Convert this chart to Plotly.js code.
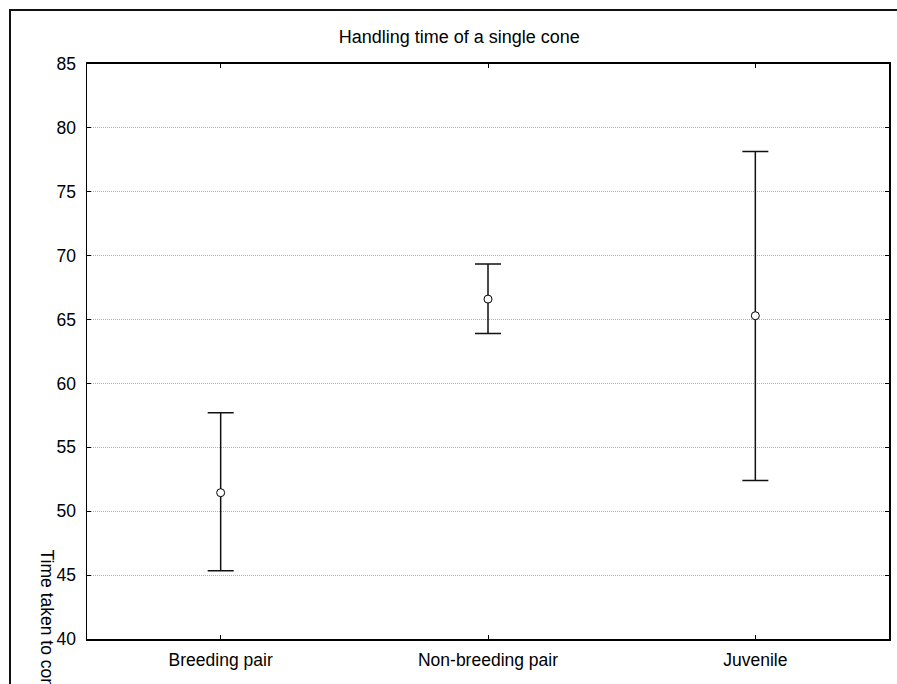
<!DOCTYPE html>
<html>
<head>
<meta charset="utf-8">
<script src="https://cdn.plot.ly/plotly-3.0.1.min.js"></script>
<style>
  html, body { margin: 0; padding: 0; background: #ffffff; overflow: hidden; }
  #frame { position: absolute; left: 9px; top: 9px; width: 1000px; height: 1000px;
           border-left: 2px solid #111; border-top: 2px solid #111; box-sizing: border-box; }
  #chart { position: absolute; left: 0; top: 0; width: 897px; height: 684px; }
</style>
</head>
<body>
<div id="frame"></div>
<div id="chart"></div>
<script>
// Data
const groups = ["Breeding pair", "Non-breeding pair", "Juvenile"];
const means = [51.45, 66.6, 65.3];
const upperErr = [6.25, 2.75, 12.85];
const lowerErr = [6.1, 2.7, 12.9];
const yTicks = [40, 45, 50, 55, 60, 65, 70, 75, 80, 85];

const FONT = "Liberation Sans, Arial, sans-serif";

const trace = {
  type: "scatter",
  mode: "markers",
  x: groups,
  y: means,
  marker: { symbol: "circle", size: 8, color: "#ffffff", line: { color: "#000000", width: 1 } },
  error_y: {
    type: "data",
    symmetric: false,
    array: upperErr,
    arrayminus: lowerErr,
    color: "#111111",
    thickness: 1.5,
    width: 13
  },
  showlegend: false,
  hoverinfo: "x+y"
};

const layout = {
  width: 897,
  height: 684,
  margin: { l: 87, r: 8, t: 64, b: 45 },
  paper_bgcolor: "rgba(0,0,0,0)",
  plot_bgcolor: "#ffffff",
  font: { family: FONT, size: 17.5, color: "#000000" },
  title: {
    text: "Handling time of a single cone",
    font: { family: FONT, size: 18, color: "#000000" },
    xref: "container", x: 0.512, xanchor: "center",
    yref: "container", y: 1 - 37 / 684, yanchor: "middle"
  },
  xaxis: {
    type: "category",
    range: [-0.5, 2.5],
    showline: true, linecolor: "#000000", linewidth: 1.7,
    mirror: "ticks",
    ticks: "inside", ticklen: 4, tickcolor: "#000000", tickwidth: 1,
    showgrid: false, zeroline: false,
    tickfont: { family: FONT, size: 17.5, color: "#000000" },
    ticklabelstandoff: 4,
    fixedrange: true
  },
  yaxis: {
    range: [40, 85],
    tickvals: yTicks,
    ticktext: yTicks.map(String),
    showline: true, linecolor: "#000000", linewidth: 1.5,
    mirror: "ticks",
    ticks: "inside", ticklen: 4, tickcolor: "#000000", tickwidth: 1,
    showgrid: true, gridcolor: "#b0b0b0", gridwidth: 1, griddash: "1px,1px",
    zeroline: false,
    tickfont: { family: FONT, size: 17.5, color: "#000000" },
    ticklabelstandoff: 6,
    fixedrange: true
  },
  annotations: [{
    text: "Time taken to consume a single cone (s)",
    textangle: 90,
    xref: "paper", yref: "paper",
    x: (48 - 87) / 801, xanchor: "center",
    y: (639 - 548) / 575, yanchor: "top",
    showarrow: false,
    font: { family: FONT, size: 17.5, color: "#000000" }
  }]
};

Plotly.newPlot("chart", [trace], layout, { displayModeBar: false, staticPlot: true });
</script>
</body>
</html>
